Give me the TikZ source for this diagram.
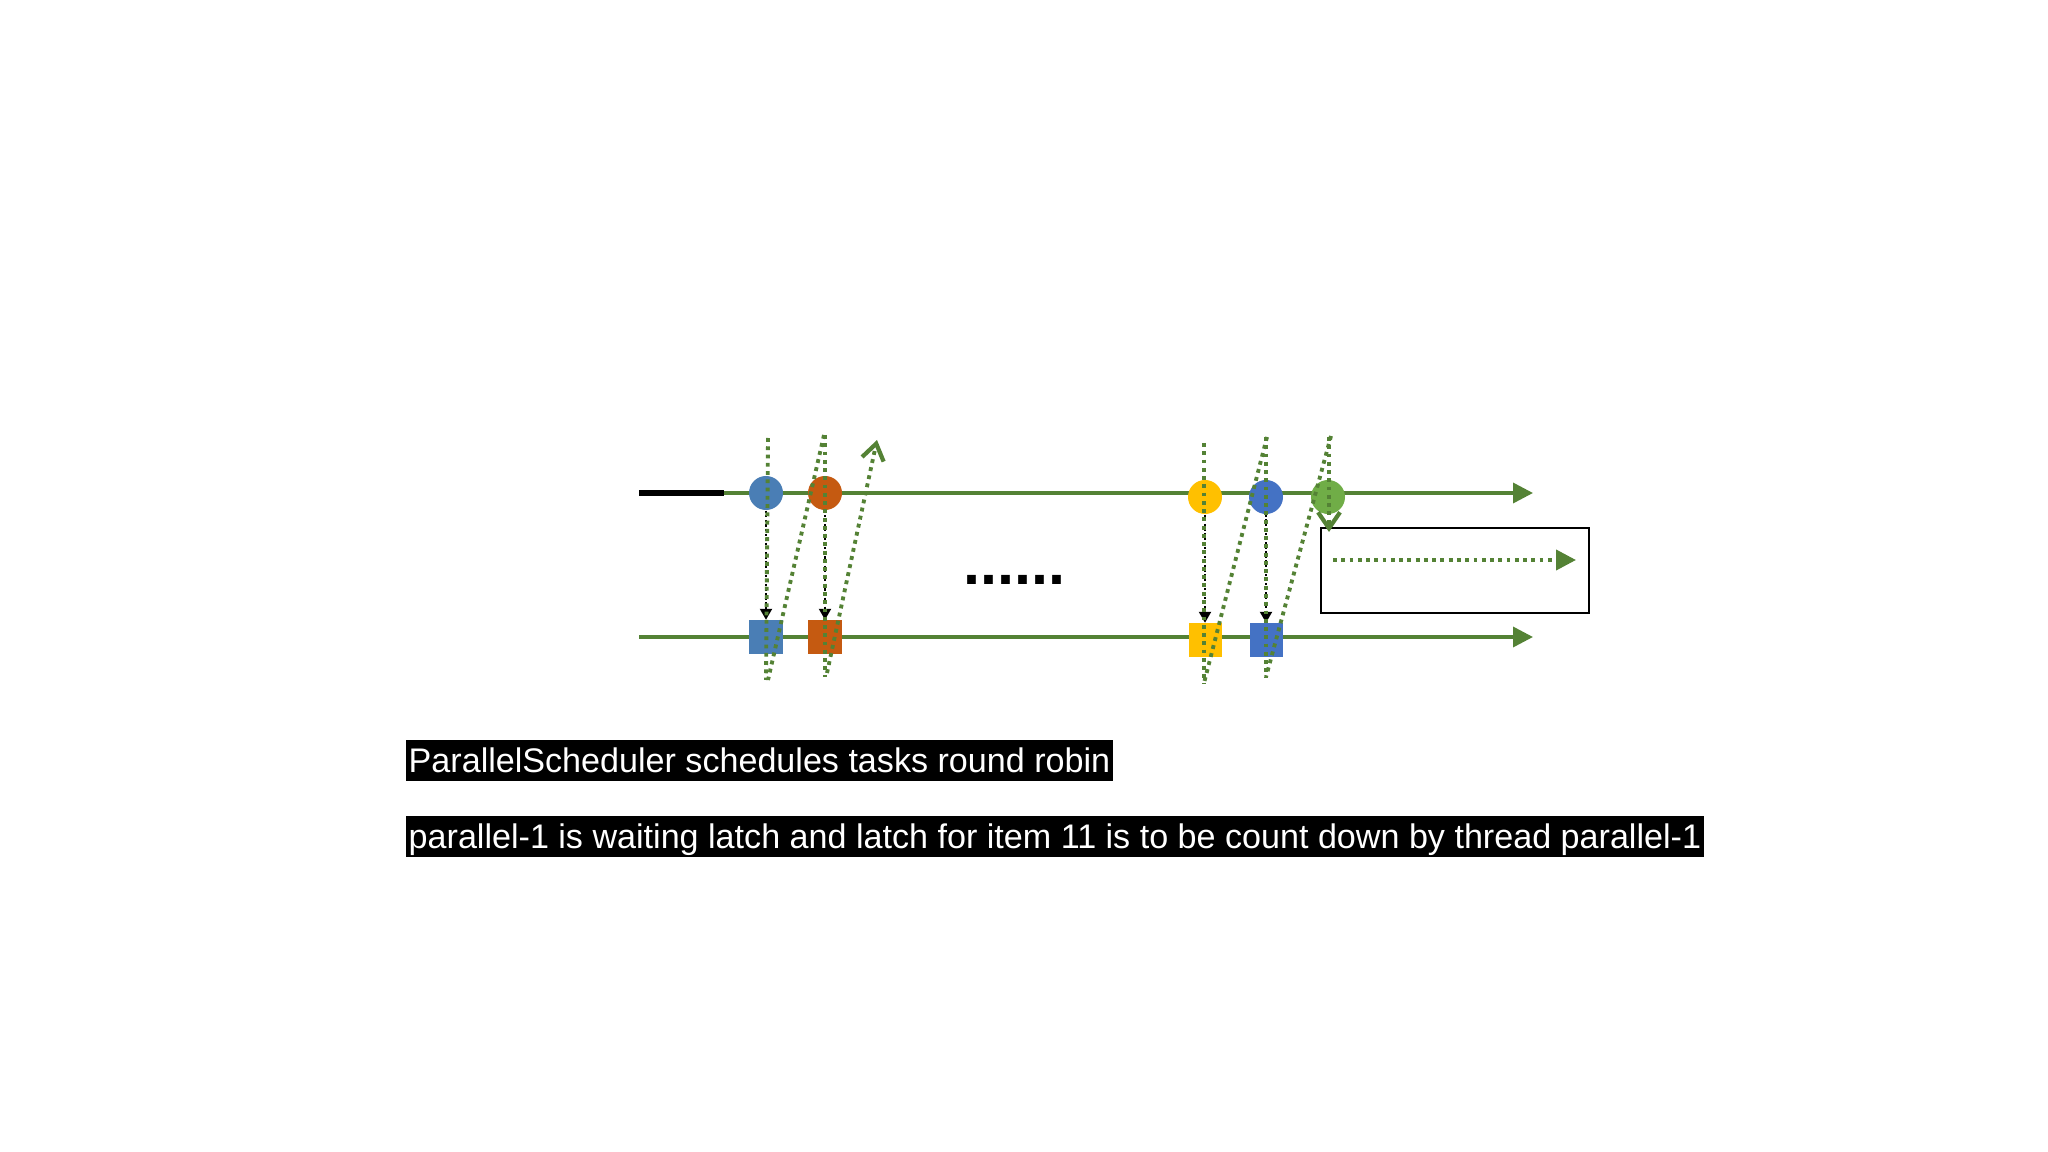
\documentclass[tikz,border=0pt]{standalone}
\usepackage{fontspec}
\setmainfont{Liberation Sans}
\usetikzlibrary{arrows.meta}
\definecolor{lineg}{HTML}{548235}
\definecolor{blueA}{HTML}{4A7EB5}
\definecolor{orangeA}{HTML}{C55A11}
\definecolor{yellowA}{HTML}{FFC000}
\definecolor{blueB}{HTML}{4472C4}
\definecolor{greenA}{HTML}{70AD47}
\tikzset{
  gline/.style={draw=lineg, line width=1pt},
  garrow/.style={gline, -{Triangle[length=0.2cm,width=0.2cm]}},
  gdot/.style={draw=lineg, line width=1.1pt, dash pattern=on 1.1pt off 1.25pt},
  gchev/.style={gdot, -{Straight Barb[length=0.16cm,width=0.22cm,line width=1.2pt]}},
  bdot/.style={draw=black, line width=0.6pt, dash pattern=on 0.6pt off 0.7pt, -{Triangle[length=0.11cm,width=0.12cm]}},
  ball/.style={circle, minimum size=0.34cm, inner sep=0pt, draw=none},
  sq/.style={rectangle, minimum size=0.33cm, inner sep=0pt, draw=none},
  caption/.style={fill=black, text=white, anchor=north west, inner xsep=0.03cm, inner ysep=0pt,
    minimum height=0.41cm, text height=0.242cm, text depth=0cm, font=\fontsize{9.7pt}{11pt}\selectfont}
}
\begin{document}
\begin{tikzpicture}[x=0.01cm,y=-0.01cm]
\useasboundingbox (0,0) rectangle (2048,1152);
% timeline coordinates
\coordinate (t0) at (639,493);
\coordinate (t1) at (724,493);
\coordinate (tend) at (1533,493);
\coordinate (b0) at (639,637);
\coordinate (bend) at (1533,637);
\draw[garrow] (t1) -- (tend);
\draw[draw=black, line width=1.7pt] (t0) -- (t1);
\draw[garrow] (b0) -- (bend);
% tasks
\node[ball, fill=blueA] (c1) at (766,493) {};
\node[ball, fill=orangeA] (c2) at (825,493) {};
\node[ball, fill=yellowA] (c3) at (1205,497) {};
\node[ball, fill=blueB] (c4) at (1266,497) {};
\node[ball, fill=greenA] (c5) at (1328,497) {};
\node[sq, fill=blueA] (s1) at (766,637) {};
\node[sq, fill=orangeA] (s2) at (825,637) {};
\node[sq, fill=yellowA] (s3) at (1205,640) {};
\node[sq, fill=blueB] (s4) at (1266,640) {};
% box
\node[draw=black, line width=0.6pt, minimum width=2.68cm, minimum height=0.85cm, inner sep=0pt] (box) at (1455,570.5) {};
\coordinate (bx0) at (1333,560);
\coordinate (bx1) at (1576,560);
\draw[gdot, -{Triangle[length=0.2cm,width=0.2cm]}] (bx0) -- (bx1);
% dots
\node[anchor=base, inner sep=0pt, font=\fontsize{17.4pt}{20pt}\selectfont\bfseries] (dots) at (1014,584) {......};
% black dotted arrows
\draw[bdot] (c1.south) -- (s1.north);
\draw[bdot] (c2.south) -- (s2.north);
\draw[bdot] (c3.south) -- (s3.north);
\draw[bdot] (c4.south) -- (s4.north);
% green dotted lines
\coordinate (a1) at (768,438); \coordinate (a2) at (766,680);
\coordinate (d1) at (824,435); \coordinate (d2) at (768,680);
\coordinate (e1) at (825,435); \coordinate (e2) at (825,677);
\coordinate (f1) at (827,673); \coordinate (f2) at (877,440);
\coordinate (g1) at (1204,443); \coordinate (g2) at (1204,683);
\coordinate (h1) at (1267,437); \coordinate (h2) at (1204,683);
\coordinate (i1) at (1266,437); \coordinate (i2) at (1266,677);
\coordinate (j1) at (1331,436); \coordinate (j2) at (1266,677);
\coordinate (k1) at (1329,437); \coordinate (k2) at (1329,532);
\draw[gdot] (a1) -- (a2);
\draw[gdot] (d1) -- (d2);
\draw[gdot] (e1) -- (e2);
\draw[gchev] (f1) -- (f2);
\draw[gdot] (g1) -- (g2);
\draw[gdot] (h1) -- (h2);
\draw[gdot] (i1) -- (i2);
\draw[gdot] (j1) -- (j2);
\draw[gchev] (k1) -- (k2);
% captions
\node[caption] (cap1) at (405,739) {ParallelScheduler schedules tasks round robin};
\node[caption] (cap2) at (405,815) {parallel-1 is waiting latch and latch for item 11 is to be count down by thread parallel-1};
\end{tikzpicture}
\end{document}
